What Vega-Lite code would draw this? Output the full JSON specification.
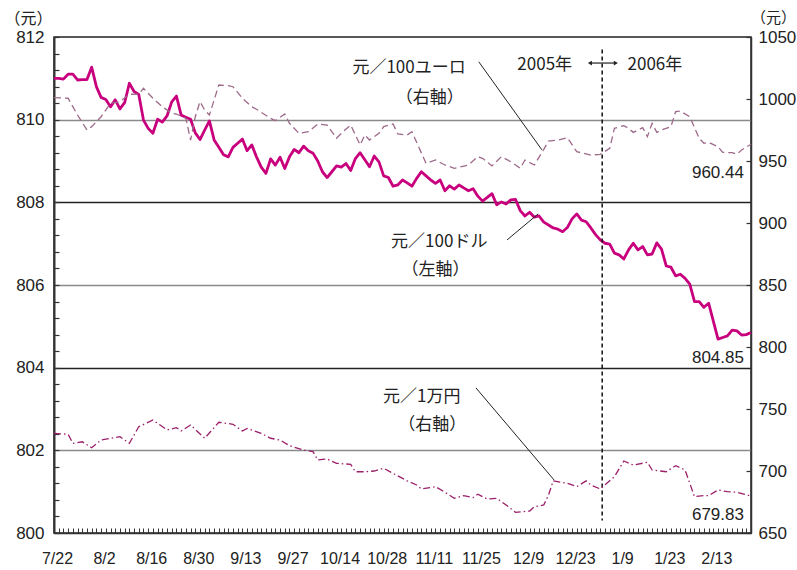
{
  "$schema": "https://vega.github.io/schema/vega-lite/v6.json",
  "width": 697,
  "height": 496,
  "autosize": "none",
  "padding": {"left": 54, "top": 37, "right": 46, "bottom": 37},
  "background": "white",
  "config": {
    "view": {"stroke": "#222", "strokeWidth": 1.5},
    "axis": {"labelFont": "Liberation Sans", "labelFontSize": 17, "labelColor": "#222", "domainColor": "#333", "tickColor": "#333", "titleFont": "Noto Sans CJK JP", "titleFontSize": 16, "titleFontWeight": "normal", "titleColor": "#222"}
  },
  "datasets": {
    "usd": [
      {"i":0,"v":811.0},{"i":1,"v":811.0},{"i":2,"v":810.98},{"i":3,"v":811.1},{"i":4,"v":811.1},{"i":5,"v":810.96},{"i":6,"v":810.97},{"i":7,"v":810.97},{"i":8,"v":811.27},{"i":9,"v":810.8},
      {"i":10,"v":810.54},{"i":11,"v":810.49},{"i":12,"v":810.31},{"i":13,"v":810.48},{"i":14,"v":810.26},{"i":15,"v":810.41},{"i":16,"v":810.88},{"i":17,"v":810.68},{"i":18,"v":810.61},{"i":19,"v":809.99},
      {"i":20,"v":809.79},{"i":21,"v":809.67},{"i":22,"v":810.01},{"i":23,"v":809.94},{"i":24,"v":810.09},{"i":25,"v":810.43},{"i":26,"v":810.57},{"i":27,"v":810.11},{"i":28,"v":810.06},{"i":29,"v":810.01},
      {"i":30,"v":809.68},{"i":31,"v":809.52},{"i":32,"v":809.75},{"i":33,"v":809.97},{"i":34,"v":809.51},{"i":35,"v":809.33},{"i":36,"v":809.15},{"i":37,"v":809.1},{"i":38,"v":809.33},{"i":39,"v":809.43},
      {"i":40,"v":809.53},{"i":41,"v":809.25},{"i":42,"v":809.39},{"i":43,"v":809.1},{"i":44,"v":808.85},{"i":45,"v":808.7},{"i":46,"v":809.05},{"i":47,"v":808.9},{"i":48,"v":809.09},{"i":49,"v":808.82},
      {"i":50,"v":809.1},{"i":51,"v":809.28},{"i":52,"v":809.2},{"i":53,"v":809.36},{"i":54,"v":809.25},{"i":55,"v":809.19},{"i":56,"v":809.0},{"i":57,"v":808.74},{"i":58,"v":808.6},{"i":59,"v":808.74},
      {"i":60,"v":808.88},{"i":61,"v":808.85},{"i":62,"v":808.94},{"i":63,"v":808.77},{"i":64,"v":809.06},{"i":65,"v":809.2},{"i":66,"v":809.03},{"i":67,"v":808.86},{"i":68,"v":809.12},{"i":69,"v":808.98},
      {"i":70,"v":808.64},{"i":71,"v":808.6},{"i":72,"v":808.39},{"i":73,"v":808.42},{"i":74,"v":808.54},{"i":75,"v":808.47},{"i":76,"v":808.39},{"i":77,"v":808.58},{"i":78,"v":808.74},{"i":79,"v":808.64},
      {"i":80,"v":808.54},{"i":81,"v":808.46},{"i":82,"v":808.54},{"i":83,"v":808.28},{"i":84,"v":808.4},{"i":85,"v":808.32},{"i":86,"v":808.42},{"i":87,"v":808.35},{"i":88,"v":808.28},{"i":89,"v":808.33},
      {"i":90,"v":808.15},{"i":91,"v":808.03},{"i":92,"v":808.12},{"i":93,"v":808.21},{"i":94,"v":807.94},{"i":95,"v":808.01},{"i":96,"v":807.96},{"i":97,"v":808.06},{"i":98,"v":808.07},{"i":99,"v":807.8},
      {"i":100,"v":807.67},{"i":101,"v":807.76},{"i":102,"v":807.64},{"i":103,"v":807.67},{"i":104,"v":807.52},{"i":105,"v":807.45},{"i":106,"v":807.38},{"i":107,"v":807.35},{"i":108,"v":807.29},{"i":109,"v":807.39},
      {"i":110,"v":807.6},{"i":111,"v":807.72},{"i":112,"v":807.57},{"i":113,"v":807.53},{"i":114,"v":807.38},{"i":115,"v":807.22},{"i":116,"v":807.09},{"i":117,"v":807.01},{"i":118,"v":806.99},{"i":119,"v":806.77},
      {"i":120,"v":806.73},{"i":121,"v":806.63},{"i":122,"v":806.85},{"i":123,"v":807.01},{"i":124,"v":806.85},{"i":125,"v":806.93},{"i":126,"v":806.73},{"i":127,"v":806.75},{"i":128,"v":807.02},{"i":129,"v":806.87},
      {"i":130,"v":806.46},{"i":131,"v":806.43},{"i":132,"v":806.22},{"i":133,"v":806.26},{"i":134,"v":806.16},{"i":135,"v":806.02},{"i":136,"v":805.6},{"i":137,"v":805.6},{"i":138,"v":805.46},{"i":139,"v":805.56},
      {"i":141,"v":804.69},{"i":142,"v":804.73},{"i":143,"v":804.77},{"i":144,"v":804.91},{"i":145,"v":804.89},{"i":146,"v":804.79},{"i":147,"v":804.8},{"i":148,"v":804.85}
    ],
    "eur": [
      {"i":0,"v":1001.1},{"i":3,"v":1000.6},{"i":5,"v":987.1},{"i":7,"v":975},{"i":8,"v":977.7},{"i":10,"v":985.7},{"i":12,"v":996.5},{"i":14,"v":997.9},{"i":16,"v":1003.8},{"i":18,"v":1004},
      {"i":19,"v":1008.6},{"i":21,"v":1000.6},{"i":23,"v":993.8},{"i":25,"v":988.5},{"i":26,"v":987.9},{"i":28,"v":984.4},{"i":29,"v":966.9},{"i":30,"v":985.7},{"i":31,"v":997.9},{"i":32,"v":991.1},
      {"i":33,"v":987.1},{"i":34,"v":999.2},{"i":35,"v":1011.3},{"i":37,"v":1010.8},{"i":38,"v":1009.9},{"i":40,"v":1000.6},{"i":42,"v":993.8},{"i":43,"v":991.7},{"i":46,"v":984.4},{"i":47,"v":982.5},
      {"i":49,"v":987.9},{"i":50,"v":980.4},{"i":52,"v":972.3},{"i":54,"v":973.6},{"i":56,"v":979.8},{"i":58,"v":979},{"i":60,"v":968.3},{"i":61,"v":972.3},{"i":63,"v":979},{"i":65,"v":962.9},
      {"i":66,"v":971},{"i":67,"v":966.9},{"i":69,"v":972.3},{"i":70,"v":977.7},{"i":72,"v":979.8},{"i":73,"v":971.8},{"i":75,"v":971},{"i":76,"v":973.6},{"i":79,"v":948.1},{"i":81,"v":950.8},
      {"i":83,"v":946.8},{"i":85,"v":944.1},{"i":88,"v":946.8},{"i":90,"v":953.5},{"i":91,"v":952.2},{"i":93,"v":946},{"i":95,"v":953.5},{"i":97,"v":949.4},{"i":99,"v":944.1},{"i":100,"v":950.8},
      {"i":102,"v":946.8},{"i":104,"v":959.4},{"i":105,"v":966.1},{"i":107,"v":966.9},{"i":109,"v":968.8},{"i":111,"v":957.5},{"i":114,"v":954.8},{"i":116,"v":955.4},{"i":118,"v":960.2},{"i":119,"v":976.4},
      {"i":121,"v":978.5},{"i":122,"v":976.4},{"i":123,"v":973.1},{"i":125,"v":976.9},{"i":126,"v":969.6},{"i":127,"v":980.4},{"i":128,"v":973.1},{"i":129,"v":975},{"i":131,"v":977.7},{"i":132,"v":989.8},
      {"i":133,"v":990.3},{"i":135,"v":985.7},{"i":137,"v":968.3},{"i":138,"v":964.3},{"i":139,"v":965.1},{"i":141,"v":961.5},{"i":142,"v":957},{"i":144,"v":956.7},{"i":145,"v":955.4},{"i":146,"v":958.9},
      {"i":148,"v":963.5}
    ],
    "jpy": [
      {"i":0,"v":730.4},{"i":3,"v":729.6},{"i":4,"v":722.3},{"i":6,"v":723.6},{"i":8,"v":718.8},{"i":10,"v":725},{"i":12,"v":726.3},{"i":14,"v":727.7},{"i":16,"v":722.3},{"i":18,"v":735.7},
      {"i":21,"v":741.1},{"i":24,"v":733.1},{"i":26,"v":734.9},{"i":27,"v":732.3},{"i":29,"v":737.1},{"i":32,"v":726.4},{"i":35,"v":739.3},{"i":38,"v":737.7},{"i":40,"v":732.3},{"i":41,"v":734.4},
      {"i":44,"v":730.4},{"i":46,"v":726.4},{"i":48,"v":725},{"i":50,"v":720.4},{"i":53,"v":716.9},{"i":55,"v":715.6},{"i":56,"v":708.9},{"i":58,"v":709.7},{"i":60,"v":706.2},{"i":63,"v":705.4},
      {"i":64,"v":699.4},{"i":66,"v":699.4},{"i":68,"v":700},{"i":70,"v":702.2},{"i":72,"v":698.1},{"i":75,"v":692},{"i":77,"v":688.7},{"i":78,"v":685.5},{"i":81,"v":687.4},{"i":83,"v":682.9},
      {"i":85,"v":678},{"i":87,"v":680.1},{"i":89,"v":678.5},{"i":90,"v":681.3},{"i":92,"v":677.4},{"i":94,"v":678},{"i":96,"v":672.6},{"i":98,"v":666.7},{"i":101,"v":667.7},{"i":102,"v":671.2},
      {"i":104,"v":672.6},{"i":105,"v":680.6},{"i":106,"v":692},{"i":109,"v":690.1},{"i":111,"v":687.4},{"i":113,"v":692},{"i":114,"v":688.7},{"i":116,"v":685.5},{"i":119,"v":695.4},{"i":121,"v":708.1},
      {"i":123,"v":704.8},{"i":126,"v":707},{"i":127,"v":700.8},{"i":130,"v":699.4},{"i":132,"v":704.3},{"i":134,"v":700.8},{"i":136,"v":679.3},{"i":138,"v":680.1},{"i":139,"v":680.1},{"i":141,"v":684.7},
      {"i":143,"v":683.3},{"i":145,"v":682.9},{"i":148,"v":679.8}
    ],
    "notes": [
      {"i":75.4,"v":811.25,"t":"元／100ユーロ"},
      {"i":79.8,"v":810.52,"t":"（右軸）"},
      {"i":81.8,"v":807.04,"t":"元／100ドル"},
      {"i":81.0,"v":806.36,"t":"（左軸）"},
      {"i":78.1,"v":803.29,"t":"元／1万円"},
      {"i":80.3,"v":802.61,"t":"（右軸）"},
      {"i":104.2,"v":811.32,"t":"2005年"},
      {"i":127.6,"v":811.32,"t":"2006年"}
    ],
    "ends": [
      {"i":146.5,"v":808.71,"t":"960.44"},
      {"i":146.5,"v":804.23,"t":"804.85"},
      {"i":146.5,"v":800.43,"t":"679.83"}
    ],
    "leaders": [
      {"i":90.2,"v":811.40,"i2":103.6,"v2":809.27},
      {"i":96.2,"v":807.09,"i2":102.8,"v2":807.72},
      {"i":89.6,"v":803.51,"i2":106.2,"v2":801.28}
    ],
    "yearline": [{"i":116.4,"v":811.7,"v2":800.3}],
    "arrowline": [{"i":113.8,"i2":119.3,"v":811.37}],
    "arrowheads": [{"i":113.8,"v":811.37,"s":"l"},{"i":119.3,"v":811.37,"s":"r"}]
  },
  "encoding": {
    "x": {"field": "i", "type": "quantitative", "scale": {"domain": [0, 148], "nice": false, "zero": false},
      "axis": {"orient": "bottom", "tickCount": 148, "tickSize": -5, "tickWidth": 1, "labelPadding": 22, "labelOffset": 3, "labelFontSize": 16, "labelFlush": false, "labelOverlap": false, "labelBound": false, "grid": false, "domainWidth": 1.5, "title": null,
        "labelExpr": "datum.value % 10 === 0 && datum.value <= 140 ? ['7/22','8/2','8/16','8/30','9/13','9/27','10/14','10/28','11/11','11/25','12/9','12/23','1/9','1/23','2/13'][datum.value / 10] : ''"}}
  },
  "layer": [
    {
      "encoding": {
        "y": {"field": "v", "type": "quantitative", "scale": {"domain": [800, 812], "nice": false, "zero": false},
          "axis": {"orient": "left",
            "values": [800,800.4,800.8,801.2,801.6,802,802.4,802.8,803.2,803.6,804,804.4,804.8,805.2,805.6,806,806.4,806.8,807.2,807.6,808,808.4,808.8,809.2,809.6,810,810.4,810.8,811.2,811.6,812],
            "tickSize": -5, "tickWidth": 1.2, "labelPadding": 15, "labelFlush": false, "labelOverlap": false, "labelBound": false,
            "labelExpr": "datum.value % 2 === 0 ? format(datum.value, 'd') : ''",
            "grid": true, "gridWidth": 1.5,
            "gridColor": {"condition": {"test": "datum.value % 4 === 0", "value": "#222"}, "value": "#8a8a8a"},
            "gridOpacity": {"condition": {"test": "datum.value % 2 === 0 && datum.value > 800 && datum.value < 812", "value": 1}, "value": 0},
            "domainWidth": 2,
            "title": "（元）", "titleAngle": 0, "titleX": -26, "titleY": -19, "titleAlign": "center", "titleBaseline": "middle"}}
      },
      "layer": [
        {
          "data": {"name": "usd"},
          "mark": {"type": "line", "color": "#c8007d", "strokeWidth": 2.8, "strokeJoin": "round"}
        },
        {
          "data": {"name": "yearline"},
          "mark": {"type": "rule", "color": "#111", "strokeWidth": 1.5, "strokeDash": [4, 3]},
          "encoding": {"y2": {"field": "v2"}}
        },
        {
          "data": {"name": "leaders"},
          "mark": {"type": "rule", "color": "#222", "strokeWidth": 1},
          "encoding": {"x2": {"field": "i2"}, "y2": {"field": "v2"}}
        },
        {
          "data": {"name": "arrowline"},
          "mark": {"type": "rule", "color": "#222", "strokeWidth": 1.2},
          "encoding": {"x2": {"field": "i2"}}
        },
        {
          "data": {"name": "arrowheads"},
          "mark": {"type": "point", "filled": true, "color": "#222", "size": 22, "opacity": 1},
          "encoding": {"shape": {"field": "s", "type": "nominal", "scale": {"domain": ["l", "r"], "range": ["triangle-left", "triangle-right"]}, "legend": null}}
        },
        {
          "data": {"name": "notes"},
          "mark": {"type": "text", "font": "Noto Sans CJK JP", "fontSize": 17, "color": "#222", "align": "center", "baseline": "middle"},
          "encoding": {"text": {"field": "t"}}
        },
        {
          "data": {"name": "ends"},
          "mark": {"type": "text", "font": "Liberation Sans", "fontSize": 17, "color": "#222", "align": "right", "baseline": "middle"},
          "encoding": {"text": {"field": "t"}}
        }
      ]
    },
    {
      "encoding": {
        "y": {"field": "v", "type": "quantitative", "scale": {"domain": [650, 1050], "nice": false, "zero": false},
          "axis": {"orient": "right", "values": [650,700,750,800,850,900,950,1000,1050], "format": "d", "tickSize": -5, "tickWidth": 1.2, "labelPadding": 12, "labelFlush": false, "labelOverlap": false, "labelBound": false, "grid": false, "domainWidth": 1.5,
            "title": "（元）", "titleAngle": 0, "titleX": 22, "titleY": -20, "titleAlign": "center", "titleBaseline": "middle", "titleFontSize": 15}}
      },
      "layer": [
        {
          "data": {"name": "eur"},
          "mark": {"type": "line", "color": "#9e6a8a", "strokeWidth": 1.3, "strokeDash": [7, 4]}
        },
        {
          "data": {"name": "jpy"},
          "mark": {"type": "line", "color": "#9b1f6a", "strokeWidth": 1.3, "strokeDash": [7, 3, 1.5, 3]}
        }
      ]
    }
  ],
  "resolve": {"scale": {"y": "independent"}}
}
